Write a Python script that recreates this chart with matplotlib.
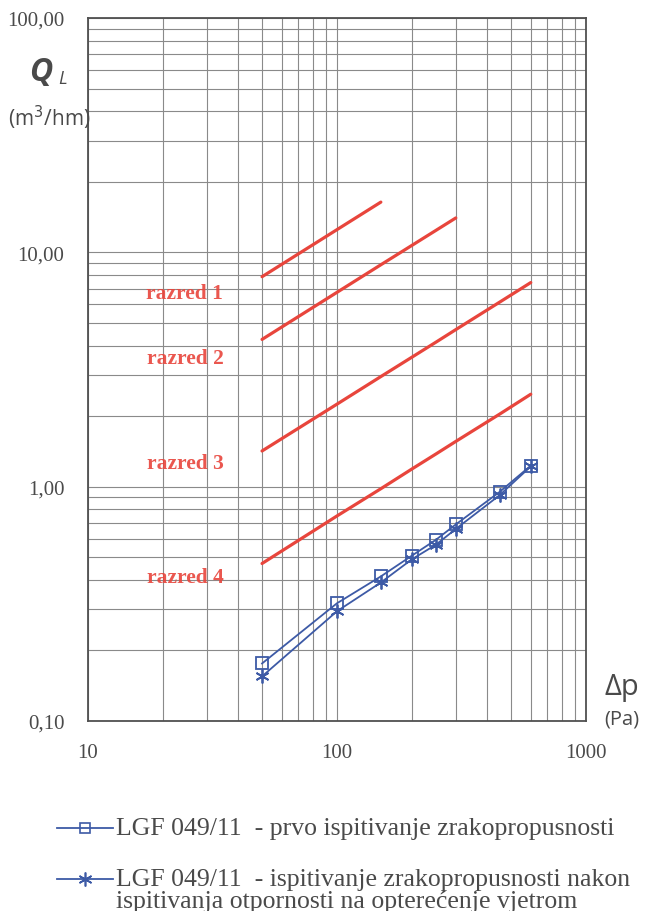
import matplotlib
matplotlib.use("Agg")
import matplotlib.pyplot as plt
from matplotlib.ticker import FixedLocator, LogLocator, NullFormatter

# Pressure differences (Pa)
p_class1 = [50, 100, 150]
p_class2 = [50, 100, 150, 200, 250, 300]
p_class34 = [50, 100, 150, 200, 250, 300, 450, 600]

# Class limits (m3/hm)
q_class1 = [7.87, 12.50, 16.38]
q_class2 = [4.25, 6.75, 8.85, 10.71, 12.42, 14.02]
q_class3 = [1.42, 2.25, 2.95, 3.57, 4.14, 4.68, 6.13, 7.43]
q_class4 = [0.47, 0.75, 0.98, 1.19, 1.38, 1.56, 2.04, 2.48]

# Measurements
p_meas = [50, 100, 150, 200, 250, 300, 450, 600]
q_first = [0.176, 0.318, 0.414, 0.508, 0.594, 0.69, 0.95, 1.23]
q_after = [0.155, 0.294, 0.39, 0.49, 0.566, 0.66, 0.92, 1.22]

class_labels = ["razred 1", "razred 2", "razred 3", "razred 4"]
class_label_y = [6.7, 3.55, 1.26, 0.41]
class_label_x = 24.5

x_ticks = [10, 100, 1000]
x_ticklabels = ["10", "100", "1000"]
y_ticks = [0.1, 1, 10, 100]
y_ticklabels = ["0,10", "1,00", "10,00", "100,00"]

legend_1 = "LGF 049/11  - prvo ispitivanje zrakopropusnosti"
legend_2a = "LGF 049/11  - ispitivanje zrakopropusnosti nakon"
legend_2b = "ispitivanja otpornosti na opterećenje vjetrom"

RED = "#e8453c"
BLUE = "#3d5aa6"
TXT = "#4a4a4a"
GRID = "#8a8a8a"

fig = plt.figure(figsize=(6.47, 9.12), dpi=100)
W, H = 647, 912
ax = fig.add_axes([88 / W, 1 - 722 / H, (586 - 88) / W, (722 - 19) / H])
ax.set_xscale("log")
ax.set_yscale("log")
ax.set_xlim(10, 1000)
ax.set_ylim(0.1, 100)

ax.xaxis.set_major_locator(FixedLocator(x_ticks))
ax.yaxis.set_major_locator(FixedLocator(y_ticks))
ax.xaxis.set_minor_locator(LogLocator(base=10, subs=range(2, 10)))
ax.yaxis.set_minor_locator(LogLocator(base=10, subs=range(2, 10)))
ax.xaxis.set_minor_formatter(NullFormatter())
ax.yaxis.set_minor_formatter(NullFormatter())
ax.set_xticklabels(x_ticklabels, family="Liberation Serif", fontsize=15, color=TXT)
ax.set_yticklabels(y_ticklabels, family="Liberation Serif", fontsize=15, color=TXT)
ax.tick_params(which="both", length=0)
ax.tick_params(axis="x", pad=16)
ax.tick_params(axis="y", pad=17)
ax.grid(which="both", color=GRID, linewidth=0.8)
ax.set_axisbelow(True)
for s in ax.spines.values():
    s.set_color("#505050")
    s.set_linewidth(1.3)

for p, q in [(p_class1, q_class1), (p_class2, q_class2),
             (p_class34, q_class3), (p_class34, q_class4)]:
    ax.plot(p, q, color=RED, linewidth=2.3, solid_capstyle="round")

for lab, y in zip(class_labels, class_label_y):
    ax.text(class_label_x, y, lab, color=RED, fontsize=15.5, fontweight="bold",
            family="Liberation Serif", ha="center", va="center", alpha=0.9)

ax.plot(p_meas, q_first, color=BLUE, linewidth=1.3, marker="s",
        markersize=8, markerfacecolor="none", markeredgecolor=BLUE,
        markeredgewidth=1.3)
ax.plot(p_meas, q_after, color=BLUE, linewidth=1.3, marker=(6, 2, 0),
        markersize=10, markeredgecolor=BLUE, markeredgewidth=1.3)

# Axis titles
fig.text(29 / W, 1 - 72 / H, "Q", fontsize=23, fontweight="bold", style="italic",
         family="Open Sans", color=TXT, ha="left", va="center")
fig.text(58 / W, 1 - 79 / H, "L", fontsize=13, style="italic",
         family="Open Sans", color=TXT, ha="left", va="center")
fig.text(8 / W, 1 - 118 / H, "(m$^3$/hm)", fontsize=15,
         family="Open Sans", color=TXT, ha="left", va="center")
fig.text(622 / W, 1 - 688 / H, "Δp", fontsize=21,
         family="Open Sans", color=TXT, ha="center", va="center")
fig.text(622 / W, 1 - 720 / H, "(Pa)", fontsize=14.5,
         family="Open Sans", color=TXT, ha="center", va="center")

# Legend drawn manually
lx0, lx1 = 57 / W, 113 / W
for ly, handle_marker, ms in [(829, "s", 7), (880, (6, 2, 0), 10)]:
    yy = 1 - ly / H
    fig.add_artist(plt.Line2D([lx0, lx1], [yy, yy], color=BLUE, linewidth=1.3,
                              transform=fig.transFigure))
    fig.add_artist(plt.Line2D([(lx0 + lx1) / 2], [yy], color=BLUE, marker=handle_marker,
                              markersize=ms, markerfacecolor="none",
                              markeredgecolor=BLUE, markeredgewidth=1.2,
                              transform=fig.transFigure))
fig.text(116 / W, 1 - 829 / H, legend_1, fontsize=18.5, family="Liberation Serif",
         color=TXT, ha="left", va="center")
fig.text(116 / W, 1 - 880 / H, legend_2a, fontsize=18.5, family="Liberation Serif",
         color=TXT, ha="left", va="center")
fig.text(116 / W, 1 - 902 / H, legend_2b, fontsize=18.5, family="Liberation Serif",
         color=TXT, ha="left", va="center")

fig.savefig("out.png", dpi=100, facecolor="white")
